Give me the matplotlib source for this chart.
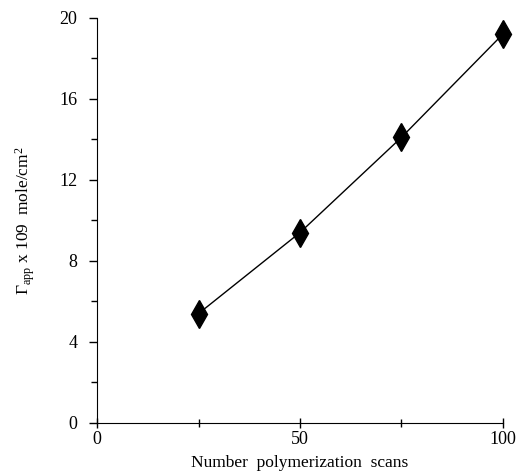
import numpy as np
import matplotlib.pyplot as plt
from matplotlib.ticker import MultipleLocator

# surface coverage vs number of polymerization scans
scans = [25, 50, 75, 100]
gamma_app = [5.4, 9.4, 14.1, 19.2]

plt.rcParams['font.family'] = ['Liberation Serif', 'DejaVu Serif']
plt.rcParams['mathtext.fontset'] = 'custom'
plt.rcParams['mathtext.rm'] = 'Liberation Serif'
plt.rcParams['mathtext.it'] = 'Liberation Serif:italic'

fig = plt.figure(figsize=(5.19, 4.71), dpi=100)
ax = fig.add_axes([0.187, 0.102, 0.782, 0.860])

ax.plot(scans, gamma_app, color='black', lw=1.0, marker='d',
        markersize=14, markerfacecolor='black', clip_on=False)

ax.set_xlim(0, 100)
ax.set_ylim(0, 20)
ax.xaxis.set_major_locator(MultipleLocator(50))
ax.xaxis.set_minor_locator(MultipleLocator(25))
ax.yaxis.set_major_locator(MultipleLocator(4))
ax.yaxis.set_minor_locator(MultipleLocator(2))

for side in ['top', 'right']:
    ax.spines[side].set_visible(False)

ax.tick_params(axis='y', which='major', direction='out', length=6, width=1, labelsize=13, pad=8)
ax.tick_params(axis='y', which='minor', direction='out', length=4, width=1)
ax.tick_params(axis='x', which='major', direction='inout', length=7, width=1, labelsize=13, pad=2)
ax.tick_params(axis='x', which='minor', direction='inout', length=6, width=1)

ax.set_xlabel('Number  polymerization  scans', fontsize=12.5, labelpad=5)
ax.set_ylabel(r'$\mathrm{\Gamma_{app}}$ x 109  mole/cm$^{\mathrm{2}}$', fontsize=12.5, labelpad=16)

fig.savefig('out.png', dpi=100)
